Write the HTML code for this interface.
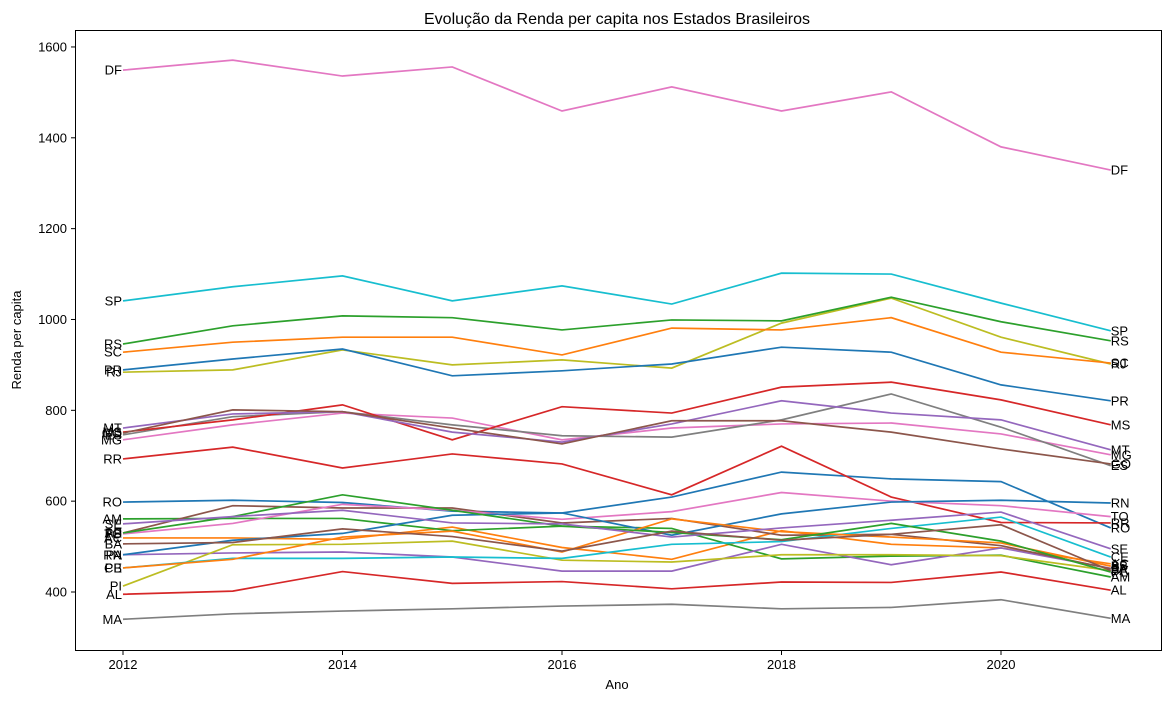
<!DOCTYPE html>
<html><head><meta charset="utf-8"><style>
body{margin:0;background:#fff;font-family:"Liberation Sans","DejaVu Sans",sans-serif}
svg text{font-family:"Liberation Sans","DejaVu Sans",sans-serif}
</style></head><body>
<svg id="chart" width="1169" height="701" xmlns="http://www.w3.org/2000/svg">
<rect x="0" y="0" width="1169" height="701" fill="#fff"/>
<text x="617" y="24" text-anchor="middle" font-size="16">Evolução da Renda per capita nos Estados Brasileiros</text>
<text x="617" y="689" text-anchor="middle" font-size="13">Ano</text>
<text transform="translate(21,340) rotate(-90)" text-anchor="middle" font-size="13">Renda per capita</text>
<g id="grid"></g>
<g id="lines"></g>
<rect x="75.5" y="30.5" width="1086" height="620" fill="none" stroke="#000" stroke-width="1"/>
</svg>
<script>
const years=[2012,2013,2014,2015,2016,2017,2018,2019,2020,2021];
const xTicks=[2012,2014,2016,2018,2020];
const yTicks=[400,600,800,1000,1200,1400,1600];
const states=["RO","AC","AM","RR","PA","AP","TO","MA","PI","CE","RN","PB","PE","AL","SE","BA","MG","ES","RJ","SP","PR","SC","RS","MS","MT","GO","DF"];
const RO=[598,602,597,578,574,609,664,649,643,541];
const AC=[519,519,516,543,498,472,535,505,497,462];
const AM=[561,562,562,535,545,540,473,479,481,433];
const RR=[693,719,673,704,682,614,721,609,553,552];
const PA=[482,486,488,477,446,446,505,460,497,452];
const AP=[530,590,585,585,552,562,525,527,502,451];
const TO=[528,551,593,580,560,577,619,600,590,566];
const MA=[340,352,358,363,369,373,363,366,383,342];
const PI=[413,504,505,512,470,466,482,482,480,447];
const CE=[453,474,474,477,474,505,511,540,565,477];
const RN=[482,514,529,569,574,525,572,598,602,596];
const PB=[453,472,521,534,488,561,533,521,508,457];
const PE=[530,566,614,580,545,531,515,551,512,444];
const AL=[395,402,445,419,423,407,422,421,444,404];
const SE=[550,566,580,552,550,521,541,558,576,495];
const BA=[506,509,539,522,490,534,514,527,548,447];
const MG=[735,768,794,783,735,761,770,772,748,702];
const ES=[746,786,797,768,744,741,779,836,763,678];
const RJ=[884,889,933,900,911,893,992,1047,961,902];
const SP=[1041,1072,1096,1041,1074,1034,1102,1100,1036,975];
const PR=[889,913,935,876,887,902,939,928,856,821];
const SC=[928,950,961,961,922,981,977,1004,928,904];
const RS=[946,986,1008,1004,977,999,997,1049,995,953];
const MS=[752,779,812,735,808,794,851,862,823,768];
const MT=[761,792,797,752,730,770,821,794,779,713];
const GO=[750,801,797,761,726,777,777,752,715,682];
const DF=[1549,1571,1536,1556,1459,1512,1459,1501,1380,1329];
const series=[RO,AC,AM,RR,PA,AP,TO,MA,PI,CE,RN,PB,PE,AL,SE,BA,MG,ES,RJ,SP,PR,SC,RS,MS,MT,GO,DF];
const colors=["#1f77b4","#ff7f0e","#2ca02c","#d62728","#9467bd","#8c564b","#e377c2","#7f7f7f","#bcbd22","#17becf"];
const NS="http://www.w3.org/2000/svg";
function xs(y){return 123+(y-2012)*109.75;}
function ys(v){return 592-(v-400)*0.4542;}
const grid=document.getElementById('grid');
xTicks.forEach(t=>{
 const l=document.createElementNS(NS,'line');
 
 
 l.setAttribute('x1',xs(t));l.setAttribute('x2',xs(t));l.setAttribute('y1',651);l.setAttribute('y2',655);l.setAttribute('stroke','#000');
 grid.appendChild(l);
 const tx=document.createElementNS(NS,'text');
 
 
 tx.setAttribute('x',xs(t));tx.setAttribute('y',669);tx.setAttribute('text-anchor','middle');tx.setAttribute('font-size','13');
 tx.textContent=t;grid.appendChild(tx);
});
yTicks.forEach(t=>{
 const l=document.createElementNS(NS,'line');
 
 
 l.setAttribute('x1',71);l.setAttribute('x2',75);l.setAttribute('y1',ys(t));l.setAttribute('y2',ys(t));l.setAttribute('stroke','#000');
 grid.appendChild(l);
 const tx=document.createElementNS(NS,'text');
 
 
 tx.setAttribute('x',67);tx.setAttribute('y',ys(t)+4.5);tx.setAttribute('text-anchor','end');tx.setAttribute('font-size','13');
 tx.textContent=t;grid.appendChild(tx);
});
const lines=document.getElementById('lines');
series.forEach((s,i)=>{
 const c=colors[i%10];
 const p=document.createElementNS(NS,'polyline');
 
 
 p.setAttribute('points',s.map((v,k)=>xs(years[k])+','+ys(v)).join(' '));
 p.setAttribute('fill','none');p.setAttribute('stroke',c);p.setAttribute('stroke-width','1.7');
 lines.appendChild(p);
 const a=document.createElementNS(NS,'text');
 
 
 a.setAttribute('x',xs(years[0])-1);a.setAttribute('y',ys(s[0])+4.5);a.setAttribute('text-anchor','end');a.setAttribute('font-size','13');
 a.textContent=states[i];lines.appendChild(a);
 const b=document.createElementNS(NS,'text');
 
 
 b.setAttribute('x',xs(years[years.length-1]));b.setAttribute('y',ys(s[s.length-1])+4.5);b.setAttribute('font-size','13');
 b.textContent=states[i];lines.appendChild(b);
});
</script>
</body></html>
